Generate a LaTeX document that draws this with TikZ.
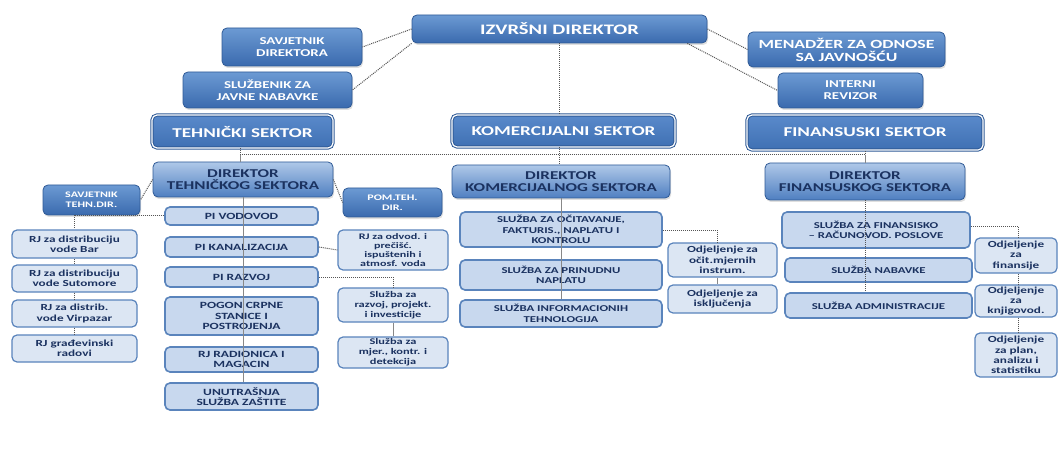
\documentclass[tikz,border=0pt]{standalone}
\usepackage{fontspec}
\setmainfont{Carlito}[FakeStretch=1.42]
\usetikzlibrary{shadows}
\definecolor{dkA}{HTML}{6C9AD3}
\definecolor{dkB}{HTML}{3A6AAE}
\definecolor{dkL}{HTML}{2F5A96}
\definecolor{dirA}{HTML}{AFC8E8}
\definecolor{dirB}{HTML}{4F7FC1}
\definecolor{secA}{HTML}{5A8ACB}
\definecolor{secB}{HTML}{3F70B3}
\definecolor{lt}{HTML}{DCE6F3}
\definecolor{ltB}{HTML}{5A84BC}
\definecolor{md}{HTML}{C8D8EE}
\definecolor{txt}{HTML}{1B3260}
\definecolor{cn}{HTML}{555555}
\tikzset{
  wh/.style 2 args={minimum width=#1pt, minimum height=#2pt},
  base/.style={inner sep=0pt, align=center, rounded corners=5pt},
  darkbox/.style={base, draw=dkL, line width=0.8pt, top color=dkA, bottom color=dkB, text=white,
    drop shadow={opacity=0.25, shadow xshift=1pt, shadow yshift=-2pt}},
  topbox/.style={darkbox, font=\bfseries\fontsize{10.5}{12}\selectfont},
  chief/.style={darkbox, font=\bfseries\fontsize{14.5}{15}\selectfont},
  sector/.style={base, draw=dkL, line width=1pt, double=white, double distance=1.2pt,
    top color=secA, bottom color=secB, text=white, font=\bfseries\fontsize{13.5}{14}\selectfont},
  dirbox/.style={base, draw=dkL, line width=0.8pt, top color=dirA, bottom color=dirB, text=txt,
    font=\bfseries\fontsize{12}{12}\selectfont,
    drop shadow={opacity=0.25, shadow xshift=1pt, shadow yshift=-2pt}},
  svc/.style={base, draw=ltB, line width=1.6pt, fill=md, text=txt, font=\bfseries\fontsize{9}{10.5}\selectfont},
  sm/.style={base, draw=ltB, line width=1.2pt, fill=lt, text=txt, font=\bfseries\fontsize{9.3}{10.3}\selectfont},
  conn/.style={draw=cn, line width=1pt, densely dotted},
  link/.style={draw=cn!70, line width=0.8pt},
}
\begin{document}
\begin{tikzpicture}[x=1pt,y=-1pt]
\useasboundingbox[fill=white] (0,0) rectangle (1061,468);

% top level
\node[chief, wh={295}{28}] (izv) at (559.5,29) {IZVRŠNI DIREKTOR};
\node[topbox, wh={140}{38}] (savd) at (292,47) {SAVJETNIK\\DIREKTORA};
\node[topbox, wh={169}{36}] (sluz) at (267.5,90) {SLUŽBENIK ZA\\JAVNE NABAVKE};
\node[topbox, wh={197}{35}, font=\bfseries\fontsize{12.5}{13}\selectfont] (men) at (846.5,49.5) {MENADŽER ZA ODNOSE\\SA JAVNOŠĆU};
\node[topbox, wh={145}{35}] (rev) at (850.5,90.5) {INTERNI\\REVIZOR};

\node[sector, wh={181}{33}] (teh) at (242.5,131.5) {TEHNIČKI SEKTOR};
\node[sector, wh={223}{32}] (kom) at (563.5,131) {KOMERCIJALNI SEKTOR};
\node[sector, wh={236}{35}] (fin) at (865,132.5) {FINANSUSKI SEKTOR};

% directors
\node[dirbox, wh={180}{35}] (dteh) at (243,179.5) {DIREKTOR\\TEHNIČKOG SEKTORA};
\node[dirbox, wh={218}{33}] (dkom) at (561,181.5) {DIREKTOR\\KOMERCIJALNOG SEKTORA};
\node[dirbox, wh={200}{37}] (dfin) at (865,181.5) {DIREKTOR\\FINANSUSKOG SEKTORA};
\node[topbox, wh={99}{29}, font=\bfseries\fontsize{8.5}{10}\selectfont] (pom) at (392.5,202.5) {POM.TEH.\\DIR.};
\node[topbox, wh={97}{30}, font=\bfseries\fontsize{8.5}{10}\selectfont] (savt) at (91.5,200) {SAVJETNIK\\TEHN.DIR.};

% left column
\node[sm, wh={125}{28}] (rj1) at (74.5,244) {RJ za distribuciju\\vode Bar};
\node[sm, wh={125}{27}] (rj2) at (74.5,278.5) {RJ za distribuciju\\vode Sutomore};
\node[sm, wh={125}{27}] (rj3) at (74.5,313.5) {RJ za distrib.\\vode Virpazar};
\node[sm, wh={125}{27}] (rj4) at (74.5,348.5) {RJ građevinski\\radovi};

% technical column
\node[svc, wh={153}{18}, font=\bfseries\fontsize{9.5}{10.5}\selectfont] (pi1) at (241.5,216) {PI VODOVOD};
\node[svc, wh={153}{20}, font=\bfseries\fontsize{9.5}{10.5}\selectfont] (pi2) at (241.5,247) {PI KANALIZACIJA};
\node[svc, wh={153}{20}, font=\bfseries\fontsize{9.5}{10.5}\selectfont] (pi3) at (241.5,277) {PI RAZVOJ};
\node[svc, wh={153}{38}, font=\bfseries\fontsize{9.5}{10.5}\selectfont] (pogon) at (241.5,316) {POGON CRPNE\\STANICE I\\POSTROJENJA};
\node[svc, wh={153}{25}, font=\bfseries\fontsize{9.5}{10.5}\selectfont] (radio) at (241.5,359.5) {RJ RADIONICA I\\MAGACIN};
\node[svc, wh={153}{27}, font=\bfseries\fontsize{9.5}{10.5}\selectfont] (unut) at (241.5,396.5) {UNUTRAŠNJA\\SLUŽBA ZAŠTITE};

\node[sm, wh={110}{40}, font=\bfseries\fontsize{8.5}{9.3}\selectfont] (rjodv) at (393,250) {RJ za odvod. i\\prečišć.\\ispuštenih i\\atmosf. voda};
\node[sm, wh={110}{34}, font=\bfseries\fontsize{8.7}{10}\selectfont] (sraz) at (393,305) {Služba za\\razvoj, projekt.\\i investicije};
\node[sm, wh={110}{31}, font=\bfseries\fontsize{8.7}{10}\selectfont] (smjer) at (393,352.5) {Služba za\\mjer., kontr. i\\detekcija};

% commercial
\node[svc, wh={202}{35}] (s1) at (561,229.5) {SLUŽBA ZA OČITAVANJE,\\FAKTURIS., NAPLATU I\\KONTROLU};
\node[svc, wh={202}{30}] (s2) at (561,275) {SLUŽBA ZA PRINUDNU\\NAPLATU};
\node[svc, wh={202}{27}] (s3) at (561,313.5) {SLUŽBA INFORMACIONIH\\TEHNOLOGIJA};
\node[sm, wh={109}{34}] (o1) at (722.5,260) {Odjeljenje za\\očit.mjernih\\instrum.};
\node[sm, wh={109}{28}] (o2) at (722.5,299) {Odjeljenje za\\isključenja};

% financial
\node[svc, wh={188}{36}] (f1) at (876,230) {SLUŽBA ZA FINANSISKO\\– RAČUNOVOD. POSLOVE};
\node[svc, wh={187}{24}] (f2) at (878.5,270) {SLUŽBA NABAVKE};
\node[svc, wh={187}{25}] (f3) at (878.5,305.5) {SLUŽBA ADMINISTRACIJE};
\node[sm, wh={82}{35}] (of1) at (1016,255.5) {Odjeljenje\\za\\finansije};
\node[sm, wh={82}{32}] (of2) at (1016,301) {Odjeljenje\\za\\knjigovod.};
\node[sm, wh={82}{44}] (of3) at (1016,355) {Odjeljenje\\za plan,\\analizu i\\statistiku};

% connectors top
\draw[conn] (izv.west) -- (savd.east);
\draw[conn] (izv.south west) -- (sluz.east);
\draw[conn] (izv.east) -- (men.west);
\draw[conn] ([xshift=-20pt]izv.south east) -- (rev.west);
\draw[conn] (izv.south) -- (izv.south |- kom.north);

\coordinate (busL) at (240,155);
\coordinate (busR) at (865,155);
\draw[conn] (teh.south -| busL) -- (busL) -- (busR) -- (fin.south);
\draw[link] (busL) -- (dteh.north -| busL);
\draw[conn] (kom.south -| izv.south) -- (dkom.north -| izv.south);
\draw[link] (busR) -- (dfin.north);

% technical connectors
\draw[conn] (dteh.west) -- (savt.east);
\draw[conn] (dteh.east) -- (pom.west);
\draw[link] (dteh.south) -- (unut.north -| dteh.south);
\draw[conn] (rj1.north |- savt.south) -- (rj1.north);
\draw[conn] (rj1.north |- pi1.west) -- (pi1.west);
\draw[conn] (rj1.south) -- (rj2.north);
\draw[conn] (rj2.south) -- (rj3.north);
\draw[conn] (rj3.south) -- (rj4.north);
\draw[conn] (pi2.east) -- (rjodv.west);
\draw[conn] (pi3.east) -- (pi3.east -| sraz.north) -- (sraz.north);
\draw[link] (sraz.south) -- (smjer.north);

% commercial connectors
\draw[link] (dkom.south) -- (s3.north -| dkom.south);
\coordinate (kc) at (717,230);
\draw[conn] (s1.east |- kc) -- (kc) -- (kc |- o1.north);
\draw[link] (o1.south -| kc) -- (o2.north -| kc);

% financial connectors
\draw[conn] (dfin.south) -- (f3.north -| dfin.south);
\coordinate (fc) at (1018,226);
\draw[conn] (f1.east |- fc) -- (fc) -- (fc |- of1.north);
\draw[conn] (of1.south -| fc) -- (of2.north -| fc);
\draw[conn] (of2.south -| fc) -- (of3.north -| fc);
\end{tikzpicture}
\end{document}
